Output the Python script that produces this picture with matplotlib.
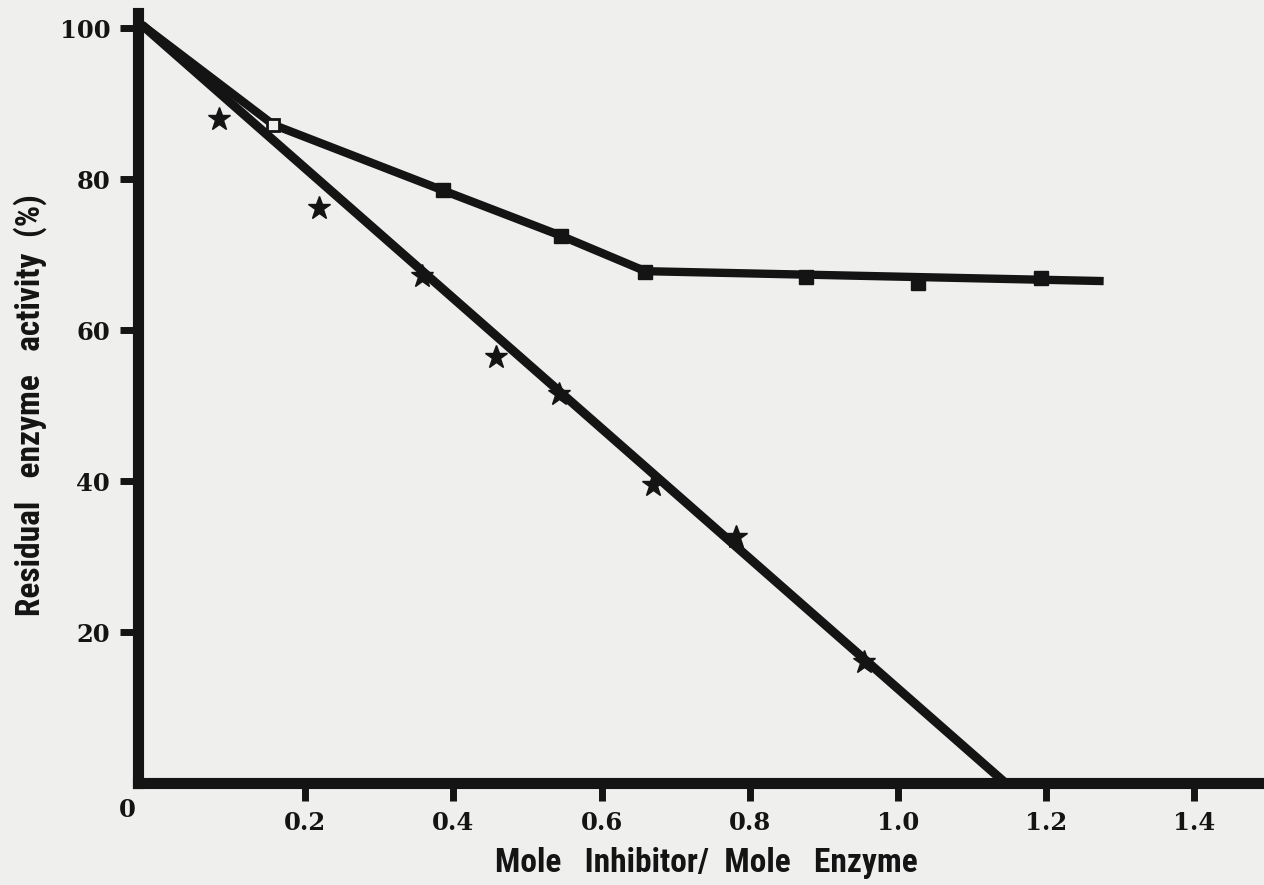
import matplotlib
matplotlib.use("Agg")
import matplotlib.pyplot as plt
from matplotlib import font_manager

# star series: measured points and the fitted straight line through them
star_x = [0.084, 0.218, 0.358, 0.457, 0.542, 0.670, 0.781, 0.954]
star_y = [87.9, 76.2, 67.2, 56.4, 51.5, 39.5, 32.6, 16.0]
star_line_x = [-0.02, 1.145]
star_line_y = [100.4, 0.0]

# square series: measured points and the drawn curve
sq_x = [0.157, 0.386, 0.545, 0.659, 0.876, 1.027, 1.193]
sq_y = [87.2, 78.5, 72.5, 67.7, 67.0, 66.2, 66.9]
sq_line_x = [-0.02, 0.157, 0.386, 0.545, 0.659, 1.272]
sq_line_y = [100.4, 87.2, 78.5, 72.5, 67.8, 66.5]

x_ticks = [0.2, 0.4, 0.6, 0.8, 1.0, 1.2, 1.4]
x_labels = ["0.2", "0.4", "0.6", "0.8", "1.0", "1.2", "1.4"]
y_ticks = [20, 40, 60, 80, 100]
y_labels = ["20", "40", "60", "80", "100"]

paper = "#efefed"
ink = "#141414"


def pick_narrow_font():
    # look for a condensed bold sans among installed fonts
    fonts = font_manager.fontManager.ttflist
    names = {f.name for f in fonts}
    for cand in ["Liberation Sans Narrow", "DejaVu Sans Condensed", "Roboto Condensed",
                 "Open Sans Condensed", "Noto Sans Condensed"]:
        if cand in names:
            return cand, "normal"
    for f in fonts:
        if "Condensed" in f.name or "Narrow" in f.name:
            return f.name, "normal"
    for f in fonts:
        if f.stretch in ("condensed", 300, 400) and f.stretch != "normal":
            return f.name, "condensed"
    return None, "normal"


def main():
    narrow, stretch = pick_narrow_font()
    if narrow:
        label_font = {"family": [narrow, "DejaVu Sans"], "weight": "bold", "size": 24,
                      "stretch": stretch}
    else:
        label_font = {"family": "DejaVu Sans", "weight": "bold", "size": 19}
    tick_font = {"family": "DejaVu Serif", "weight": "bold", "size": 17.5}

    fig = plt.figure(figsize=(12.64, 8.85), dpi=100, facecolor=paper)
    ax = fig.add_axes([138 / 1264, 102 / 885, 1126 / 1264, 770 / 885])
    ax.set_facecolor(paper)

    ax.plot(star_line_x, star_line_y, color=ink, lw=6.5, solid_capstyle="butt")
    ax.plot(sq_line_x, sq_line_y, color=ink, lw=6, solid_joinstyle="miter")
    ax.plot(star_x, star_y, ls="none", marker="*", ms=17, color=ink)
    ax.plot(sq_x[1:], sq_y[1:], ls="none", marker="s", ms=10.5, color=ink)
    ax.plot(sq_x[:1], sq_y[:1], ls="none", marker="s", ms=8, mfc=paper, mec=ink, mew=2)

    ax.set_xlim(-0.0256, 1.494)
    ax.set_ylim(0, 102)

    for side in ["top", "right"]:
        ax.spines[side].set_visible(False)
    for side in ["left", "bottom"]:
        ax.spines[side].set_linewidth(8)
        ax.spines[side].set_color(ink)

    ax.set_xticks(x_ticks)
    ax.set_xticklabels(x_labels, fontdict=tick_font, color=ink)
    ax.set_yticks(y_ticks)
    ax.set_yticklabels(y_labels, fontdict=tick_font, color=ink)
    ax.tick_params(axis="both", direction="out", length=13, width=5, color=ink, pad=7)

    fig.text(127 / 1264, 1 - 810 / 885, "0", ha="center", va="center", color=ink, **tick_font)
    fig.text(706 / 1264, 1 - 863 / 885, "Mole   Inhibitor/  Mole   Enzyme", ha="center",
             va="center", color=ink, fontdict=label_font)
    fig.text(30 / 1264, 1 - 405 / 885, "Residual   enzyme   activity  (%)", ha="center",
             va="center", rotation=90, color=ink, fontdict=label_font)

    fig.savefig("out.png", dpi=100, facecolor=paper)


if __name__ == "__main__":
    main()
